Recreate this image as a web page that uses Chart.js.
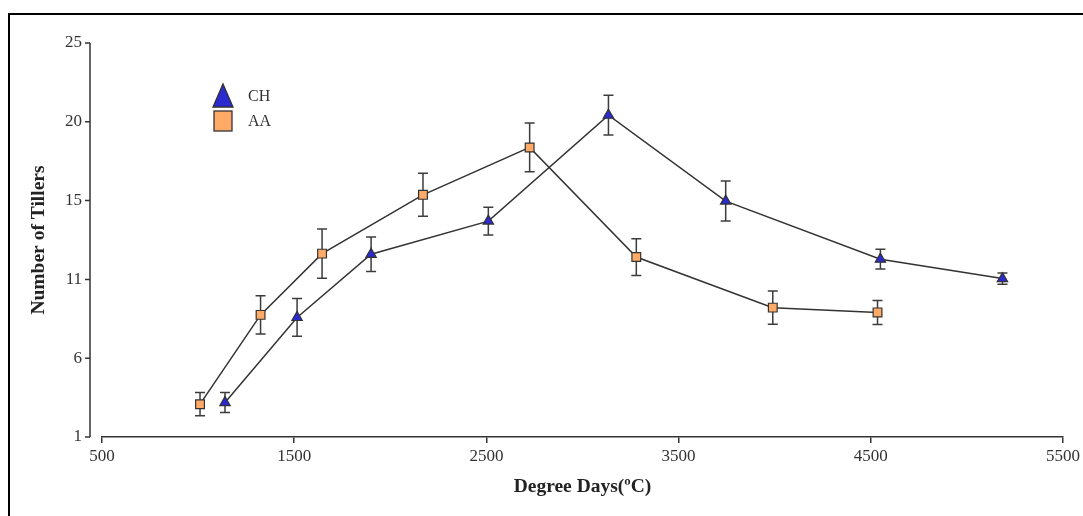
<!DOCTYPE html>
<html>
<head>
<meta charset="utf-8">
<script src="https://cdn.jsdelivr.net/npm/chart.js@4"></script>
<style>
  html, body { margin: 0; padding: 0; background: #fff; }
  #wrap { position: relative; width: 1083px; height: 516px; }
</style>
</head>
<body>
<div id="wrap"><canvas id="grafico"></canvas></div>
<script>
// CH (triangles)
const chDegreeDays = [1140, 1515, 1900, 2510, 3135, 3745, 4550, 5185];
const chTillers    = [3.1, 8.28, 12.13, 14.15, 20.6, 15.37, 11.83, 10.65];
const chErr        = [0.61, 1.15, 1.05, 0.85, 1.21, 1.22, 0.6, 0.34];

// AA (squares)
const aaDegreeDays = [1010, 1325, 1645, 2170, 2725, 3280, 3990, 4535];
const aaTillers    = [3.0, 8.44, 12.17, 15.75, 18.64, 11.96, 8.88, 8.59];
const aaErr        = [0.71, 1.17, 1.5, 1.31, 1.48, 1.12, 1.01, 0.73];

const yTickValues = [1, 5.8, 10.6, 15.4, 20.2, 25];
const yTickLabels = ['1', '6', '11', '15', '20', '25'];
const xTickValues = [500, 1500, 2500, 3500, 4500, 5500];
const xTickLabels = ['500', '1500', '2500', '3500', '4500', '5500'];

const serif = 'Liberation Serif';
const toPoints = (xs, ys) => xs.map((x, i) => ({ x: x, y: ys[i] }));

// error bars drawn under the markers
const errorBars = {
    id: 'errorBars',
    beforeDatasetsDraw(chart) {
        const { ctx, scales: { x, y } } = chart;
        ctx.save();
        ctx.strokeStyle = '#3c3c3c';
        ctx.lineWidth = 1.5;
        chart.data.datasets.forEach(ds => {
            ds.data.forEach((p, i) => {
                const px = x.getPixelForValue(p.x);
                const top = y.getPixelForValue(p.y + ds.errors[i]);
                const bot = y.getPixelForValue(p.y - ds.errors[i]);
                ctx.beginPath();
                ctx.moveTo(px, top); ctx.lineTo(px, bot);
                ctx.moveTo(px - 5, top); ctx.lineTo(px + 5, top);
                ctx.moveTo(px - 5, bot); ctx.lineTo(px + 5, bot);
                ctx.stroke();
            });
        });
        ctx.restore();
    }
};

// frame, detached y axis line and the legend box
const extras = {
    id: 'extras',
    afterDraw(chart) {
        const { ctx, chartArea, scales: { y } } = chart;
        const ds = chart.data.datasets;
        ctx.save();

        ctx.fillStyle = '#000';
        ctx.fillRect(8, 13, 2, chart.height - 13);
        ctx.fillRect(8, 13, chart.width - 8, 2);

        const ax = chartArea.left - 12;
        ctx.strokeStyle = '#333';
        ctx.lineWidth = 1.5;
        ctx.beginPath();
        ctx.moveTo(ax, y.getPixelForValue(y.max));
        ctx.lineTo(ax, y.getPixelForValue(y.min));
        yTickValues.forEach(v => {
            const py = y.getPixelForValue(v);
            ctx.moveTo(ax - 5, py);
            ctx.lineTo(ax, py);
        });
        ctx.stroke();

        // legend
        const lx = chartArea.left + 121;
        ctx.lineWidth = 1.3;
        ctx.strokeStyle = '#333';
        ctx.fillStyle = ds[0].pointBackgroundColor;
        ctx.beginPath();
        ctx.moveTo(lx, 84);
        ctx.lineTo(lx + 10, 107);
        ctx.lineTo(lx - 10, 107);
        ctx.closePath();
        ctx.fill(); ctx.stroke();

        ctx.fillStyle = ds[1].pointBackgroundColor;
        ctx.fillRect(lx - 9, 111, 18, 20);
        ctx.strokeRect(lx - 9, 111, 18, 20);

        ctx.fillStyle = '#333';
        ctx.font = '16px "' + serif + '"';
        ctx.textBaseline = 'middle';
        ctx.textAlign = 'left';
        ctx.fillText(ds[0].label, lx + 25, 97);
        ctx.fillText(ds[1].label, lx + 25, 122);

        ctx.restore();
    }
};

const ctx = document.getElementById('grafico').getContext('2d');
new Chart(ctx, {
    type: 'scatter',
    data: {
        datasets: [{
            label: 'CH',
            data: toPoints(chDegreeDays, chTillers),
            errors: chErr,
            showLine: true,
            borderColor: '#333',
            borderWidth: 1.5,
            pointStyle: 'triangle',
            pointRadius: 6,
            pointBackgroundColor: '#2a2ad0',
            pointBorderColor: '#333',
            pointBorderWidth: 1.2
        }, {
            label: 'AA',
            data: toPoints(aaDegreeDays, aaTillers),
            errors: aaErr,
            showLine: true,
            borderColor: '#333',
            borderWidth: 1.5,
            pointStyle: 'rect',
            pointRadius: 6.2,
            pointBackgroundColor: '#ffaa66',
            pointBorderColor: '#333',
            pointBorderWidth: 1.2
        }]
    },
    options: {
        responsive: true,
        maintainAspectRatio: false,
        animation: false,
        layout: { padding: { top: 43, right: 20, bottom: 0, left: 0 } },
        plugins: {
            legend: { display: false },
            tooltip: { enabled: false }
        },
        scales: {
            x: {
                type: 'linear',
                min: 500,
                max: 5500,
                afterBuildTicks: scale => { scale.ticks = xTickValues.map(v => ({ value: v })); },
                afterFit: scale => { scale.height = 79; scale.paddingLeft = 0; scale.paddingRight = 0; },
                grid: { drawOnChartArea: false, drawTicks: true, tickLength: 6, color: '#333', lineWidth: 1.5 },
                border: { display: true, color: '#333', width: 1.5 },
                ticks: {
                    padding: 3,
                    color: '#333',
                    font: { family: serif, size: 17 },
                    callback: (value, index) => xTickLabels[index]
                },
                title: {
                    display: true,
                    text: 'Degree Days(ºC)',
                    color: '#222',
                    font: { family: serif, size: 19.5, weight: 'bold' },
                    padding: { top: 0, bottom: 17 }
                }
            },
            y: {
                type: 'linear',
                min: 1,
                max: 25,
                afterBuildTicks: scale => { scale.ticks = yTickValues.map(v => ({ value: v })); },
                afterFit: scale => { scale.width = 102; },
                grid: { display: false, drawTicks: false },
                border: { display: false },
                ticks: {
                    padding: 20,
                    color: '#333',
                    font: { family: serif, size: 17 },
                    callback: (value, index) => yTickLabels[index]
                },
                title: {
                    display: true,
                    text: 'Number of Tillers',
                    color: '#222',
                    font: { family: serif, size: 19.5, weight: 'bold' },
                    padding: { top: 27, bottom: 0 }
                }
            }
        }
    },
    plugins: [errorBars, extras]
});
</script>
</body>
</html>
